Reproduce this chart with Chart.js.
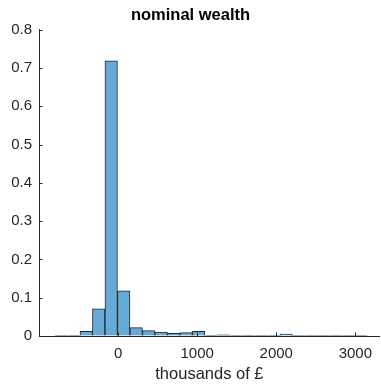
<!DOCTYPE html>
<html>
<head>
<meta charset="utf-8">
<script src="https://cdn.jsdelivr.net/npm/chart.js@4/dist/chart.umd.min.js"></script>
<style>
  html, body { margin: 0; padding: 0; background: #fff; }
  #wrap { width: 381px; height: 384px; }
</style>
</head>
<body>
<div id="wrap"><canvas id="c" width="381" height="384"></canvas></div>
<script>
// ---- data ----
const chartTitle = 'nominal wealth';
const xAxisLabel = 'thousands of £';
const binCenters = [-719, -561, -403, -245, -87, 71, 229, 387, 545, 703, 861, 1019, 1177,
                    1335, 1493, 1651, 1809, 1967, 2125, 2283, 2441, 2599, 2757, 2915, 3073];
const probabilities = [0.0005, 0.001, 0.012, 0.071, 0.719, 0.118, 0.022, 0.014, 0.010, 0.007,
                       0.009, 0.012, 0.002, 0.003, 0.001, 0.0005, 0.0005, 0.0005, 0.005,
                       0.0005, 0.0005, 0.0005, 0.0005, 0.001, 0.0005];
const xTickValues = [0, 1000, 2000, 3000];
const yTickValues = [0, 0.1, 0.2, 0.3, 0.4, 0.5, 0.6, 0.7, 0.8];

const axisColor = '#262626';
const fontFamily = "'Liberation Sans', Arial, Helvetica, sans-serif";

// inward tick marks (MATLAB style) drawn through the chart's scales
const inwardTicks = {
  id: 'inwardTicks',
  afterDatasetsDraw(chart) {
    const { ctx, chartArea, scales } = chart;
    const len = 3.5;
    ctx.save();
    ctx.strokeStyle = axisColor;
    ctx.lineWidth = 1;
    ctx.beginPath();
    yTickValues.forEach(v => {
      const py = Math.round(scales.y.getPixelForValue(v)) + 0.5;
      ctx.moveTo(chartArea.left, py);
      ctx.lineTo(chartArea.left + len, py);
    });
    xTickValues.forEach(v => {
      const px = Math.round(scales.x.getPixelForValue(v)) + 0.5;
      ctx.moveTo(px, chartArea.bottom);
      ctx.lineTo(px, chartArea.bottom - len);
    });
    ctx.stroke();
    ctx.restore();
  }
};

new Chart(document.getElementById('c'), {
  type: 'bar',
  data: {
    datasets: [{
      data: binCenters.map((x, i) => ({ x: x, y: probabilities[i] })),
      backgroundColor: 'rgb(102,170,215)',
      borderColor: 'rgba(0,0,0,0.85)',
      borderWidth: 1,
      barPercentage: 1,
      categoryPercentage: 1,
      grouped: false
    }]
  },
  options: {
    responsive: false,
    animation: false,
    devicePixelRatio: 1,
    layout: { padding: { left: 0, right: 0, top: 0, bottom: 0 } },
    plugins: {
      legend: { display: false },
      tooltip: { enabled: false },
      title: {
        display: true,
        text: chartTitle,
        color: '#000',
        font: { family: fontFamily, size: 16.5, weight: 'bold', lineHeight: 1.2 },
        padding: { top: 6, bottom: 4 }
      }
    },
    scales: {
      x: {
        type: 'linear',
        min: -1000,
        max: 3310,
        offset: false,
        grid: { display: true, drawOnChartArea: false, drawTicks: false },
        border: { display: true, color: axisColor, width: 1 },
        afterBuildTicks: s => { s.ticks = xTickValues.map(v => ({ value: v })); },
        afterFit: s => { s.height = 48; },
        ticks: {
          color: axisColor,
          padding: 9,
          maxRotation: 0,
          autoSkip: false,
          font: { family: fontFamily, size: 15 },
          callback: v => String(v)
        },
        title: {
          display: true,
          text: xAxisLabel,
          color: axisColor,
          font: { family: fontFamily, size: 16.5, lineHeight: 1.2 },
          padding: { top: 0, bottom: 0 }
        }
      },
      y: {
        min: 0,
        max: 0.8,
        grid: { display: true, drawOnChartArea: false, drawTicks: false },
        border: { display: true, color: axisColor, width: 1 },
        afterBuildTicks: s => { s.ticks = yTickValues.map(v => ({ value: v })); },
        afterFit: s => { s.width = 39; },
        ticks: {
          color: axisColor,
          padding: 7,
          autoSkip: false,
          font: { family: fontFamily, size: 15 },
          callback: v => String(Math.round(v * 10) / 10)
        }
      }
    }
  },
  plugins: [inwardTicks]
});
</script>
</body>
</html>
